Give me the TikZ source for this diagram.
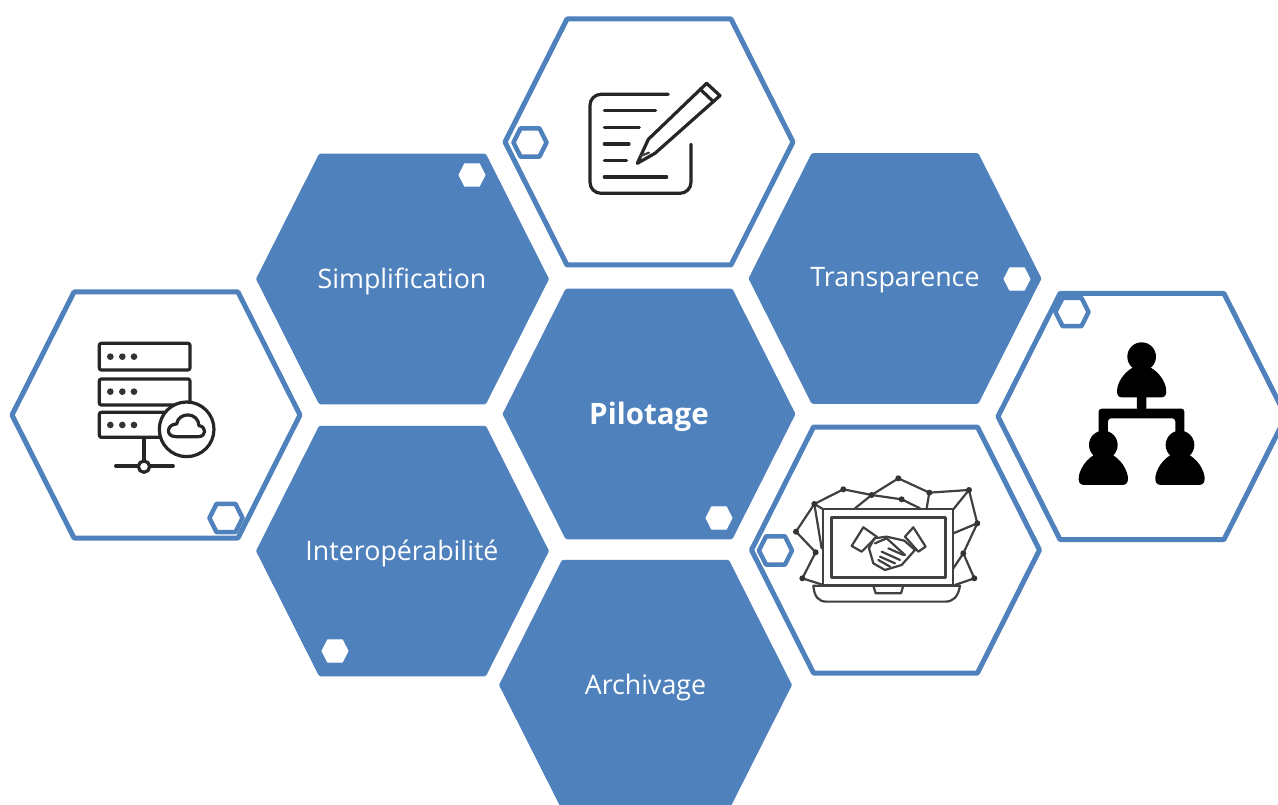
\documentclass[tikz,border=0pt]{standalone}
\usepackage{fontspec}
\setmainfont{Open Sans}
\definecolor{hexblue}{HTML}{4F81BD}
\tikzset{
  hexfull/.style={draw=hexblue, fill=hexblue, line width=4.5pt, line join=round},
  hexline/.style={draw=hexblue, fill=white, line width=5pt, line join=round},
  hexmini/.style={draw=hexblue, fill=white, line width=4.5pt, line join=round},
  hexdot/.style={draw=white, fill=white, line width=1pt, line join=round},
  hexlabel/.style={text=white, font=\fontsize{26.8}{30}\selectfont},
  icon/.style={draw=black!85, line width=3.2pt, line cap=round, line join=round},
  thinicon/.style={draw=black!75, line width=2.2pt, line cap=round, line join=round},
  pics/hexa/.style={code={
    \path[#1] (-144,0) -- (-82,-123) -- (82,-123) -- (144,0) -- (82,123) -- (-82,123) -- cycle;
  }}
}
\begin{document}
\begin{tikzpicture}[x=1pt, y=-1pt]
    \useasboundingbox (0,0) rectangle (1278,805);

    % Filled cells
    \foreach \cx/\cy in {402.5/279, 895/278.5, 649/414, 402.5/551, 645.5/685}
        \pic at (\cx,\cy) {hexa=hexfull};

    % Outlined cells
    \foreach \cx/\cy in {649/142, 156/415, 895.5/550, 1142/416.5}
        \pic at (\cx,\cy) {hexa=hexline};

    % Small hexagons
    \foreach \cx/\cy in {530/142.5, 226/518, 775.5/550.5, 1072/312}
        \pic[scale=0.115] at (\cx,\cy) {hexa=hexmini};
    \foreach \cx/\cy in {472/175, 1017/279, 719/518, 335/651}
        \pic[scale=0.09] at (\cx,\cy) {hexa=hexdot};

    % Labels
    \node[hexlabel] (simplif) at (402,281.5) {Simplification};
    \node[hexlabel] (transp) at (895,280.5) {Transparence};
    \node[hexlabel, font=\fontsize{29.5}{32}\selectfont\bfseries] (pilot) at (649,417) {Pilotage};
    \node[hexlabel] (interop) at (402,553.5) {Interopérabilité};
    \node[hexlabel] (archiv) at (645.5,687.5) {Archivage};

    % Document and pencil icon
    \begin{scope}[shift={(500,0)}, scale=0.3333]
        \draw[icon, rounded corners=11pt] (505,283) -- (270,283) -- (270,580) -- (573,580) -- (573,433);
        \foreach \xa/\xb/\yy in {313/467/332, 313/418/382, 313/387/432, 313/380/482, 313/500/531}
            \draw[icon] (\xa,\yy) -- (\xb,\yy);
        \draw[icon] (412,490) -- (445,418) -- (620,250) -- (660,287) -- (465,460) -- cycle;
        \draw[icon] (600,267) -- (640,305);
        \draw[thinicon] (422,468) -- (447,458);
    \end{scope}

    % Server and cloud icon
    \begin{scope}[shift={(0,280)}, scale=0.3333]
        \draw[icon, rounded corners=2pt] (298,190) rectangle (570,270);
        \draw[icon, rounded corners=2pt] (298,297) rectangle (570,375);
        \draw[icon, rounded corners=2pt] (298,397) rectangle (520,472);
        \foreach \yy in {230,335,435}
            \foreach \xx in {331,367,402}
                \fill[black!80] (\xx,\yy) circle (10);
        \draw[icon, fill=white] (560,448) circle (82);
        \draw[icon] (432,475) -- (432,540);
        \draw[icon] (347,558) -- (413,558) (452,558) -- (520,558);
        \draw[icon] (432,560) circle (17);
        \draw[icon] (528,470) .. controls (495,470) and (500,432) .. (530,432)
            .. controls (535,395) and (595,395) .. (597,437)
            .. controls (620,440) and (620,470) .. (595,470) -- cycle;
    \end{scope}

    % Laptop and handshake icon
    \begin{scope}[shift={(745,420)}, scale=0.3333]
        \draw[thinicon] (208,252) -- (295,208) -- (380,225) -- (460,175) -- (553,218) -- (672,210) -- (697,310) -- (655,400) -- (688,475) -- (630,495);
        \draw[thinicon] (208,252) -- (153,335) -- (212,397) -- (172,475) -- (235,495);
        \draw[thinicon] (208,252) -- (235,268) (208,252) -- (230,385) (330,265) -- (380,225) -- (470,238) -- (525,265);
        \draw[thinicon] (553,218) -- (545,265) (672,210) -- (625,268) (697,310) -- (625,340) (655,400) -- (625,445);
        \foreach \xx/\yy in {208/252, 295/208, 380/225, 460/175, 470/238, 553/218, 672/210, 697/310, 655/400, 688/475, 153/335, 212/397, 172/475}
            \fill[black!80] (\xx,\yy) circle (9);
        \draw[thinicon, fill=white] (235,268) rectangle (625,495);
        \draw[thinicon, line width=2.8pt] (260,292) rectangle (602,472);
        \draw[thinicon] (205,497) -- (645,497) .. controls (640,530) and (625,545) .. (600,545) -- (245,545) .. controls (220,545) and (208,530) .. (205,497);
        \draw[thinicon] (385,497) -- (392,520) -- (468,520) -- (475,497);
        % cuffs
        \draw[thinicon] (320,378) -- (355,322) -- (395,350) -- (350,395) -- cycle;
        \draw[thinicon] (480,350) -- (505,322) -- (542,380) -- (520,395) -- cycle;
        % hands
        \draw[thinicon] (372,385) -- (388,355) -- (425,350) -- (478,362) -- (510,390) -- (470,435) -- (420,450) -- (385,430) -- cycle;
        \draw[thinicon] (390,370) -- (425,355) -- (480,405);
        \foreach \xa/\ya/\xb/\yb in {410/395/465/420, 405/410/450/430, 400/420/435/440, 430/385/475/405}
            \draw[thinicon] (\xa,\ya) -- (\xb,\yb);
    \end{scope}

    % Hierarchy icon
    \begin{scope}[shift={(990,285)}, scale=0.3333]
        \foreach \px/\py in {455/215, 340/480, 570/480}
            \fill[black] (\px,\py) circle (43);
        \fill[black] (395,337) .. controls (372,337) and (380,295) .. (400,272) .. controls (415,252) and (440,240) .. (455,240) .. controls (470,240) and (495,252) .. (510,272) .. controls (530,295) and (538,337) .. (515,337) -- cycle;
        \foreach \px in {340,570}
            \fill[black] (\px-58,600) .. controls (\px-85,600) and (\px-75,555) .. (\px-50,528) .. controls (\px-35,512) and (\px-15,500) .. (\px,500) .. controls (\px+15,500) and (\px+35,512) .. (\px+50,528) .. controls (\px+75,555) and (\px+85,600) .. (\px+58,600) -- cycle;
        \fill[black, rounded corners=2pt] (441,330) rectangle (469,375);
        \fill[black, rounded corners=3pt] (326,371) -- (583,371) -- (583,450) -- (556,450) -- (556,400) -- (354,400) -- (354,450) -- (326,450) -- cycle;
    \end{scope}
\end{tikzpicture}
\end{document}
